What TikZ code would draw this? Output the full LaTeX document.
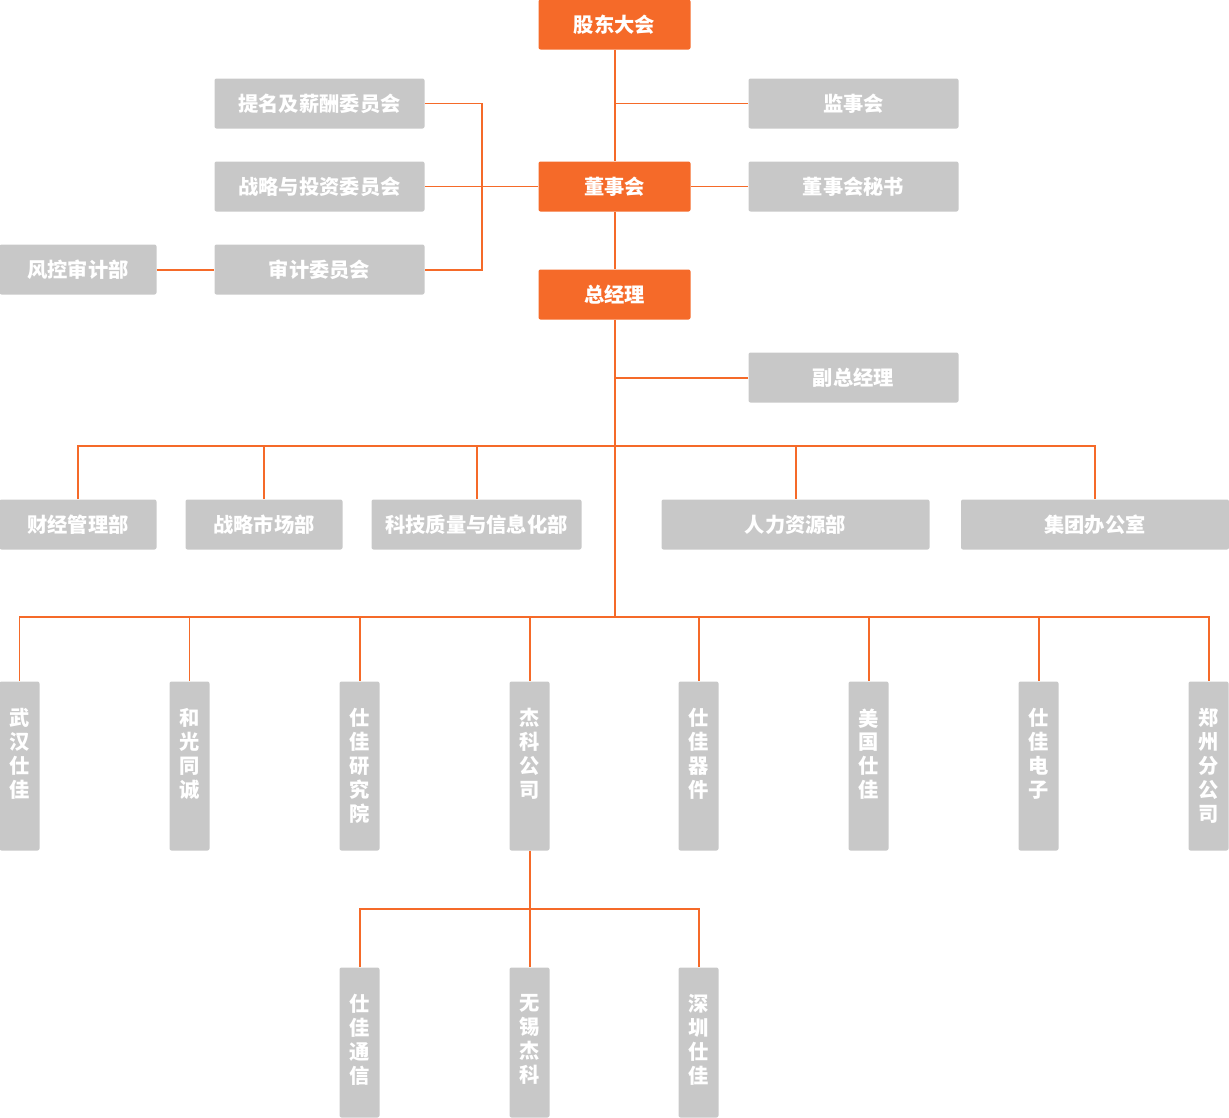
\documentclass[tikz,border=0pt]{standalone}
\usepackage{fontspec}
\newfontfamily\cjk{Noto Sans CJK SC}
\usetikzlibrary{positioning,calc}
\def\pxu{0.03cm}
\definecolor{zjorange}{HTML}{F56A29}
\definecolor{zjgray}{HTML}{C8C8C8}
\tikzset{
    base/.style={rectangle, rounded corners=0.06cm, text=white, inner sep=0pt, font=\cjk\bfseries\fontsize{17.3pt}{20.4pt}\selectfont},
    lead/.style={base, fill=zjorange, minimum width=152*\pxu, minimum height=50*\pxu},
    side/.style={base, fill=zjgray, minimum width=210*\pxu, minimum height=50*\pxu},
    dept/.style={side, minimum width=157*\pxu},
    unit/.style={base, fill=zjgray, minimum width=40*\pxu, minimum height=169*\pxu},
    subunit/.style={unit, minimum height=150*\pxu},
    utext/.style={base, anchor=north, align=center},
    link/.style={draw=zjorange, line width=1.7pt}
}
\begin{document}
\begin{tikzpicture}[x=0.03cm, y=-0.03cm]
        \useasboundingbox (0,0) rectangle (1229,1118);
        % Top level
        \node[lead] (gd) at (614.5,24.5) {股东大会};
        \node[side] (js) at (853.5,103.5) {监事会};
        \node[lead] (dsh) at (614.5,186.5) {董事会};
        \node[side] (ms) at (853.5,186.5) {董事会秘书};
        
        % Committees
        \node[side] (tm) at (319.5,103.5) {提名及薪酬委员会};
        \node[side] (zl) at (319.5,186.5) {战略与投资委员会};
        \node[side] (sj) at (319.5,269.5) {审计委员会};
        \node[dept] (fk) at (78,269.5) {风控审计部};
        
        % Management
        \node[lead] (zjl) at (614.5,294.5) {总经理};
        \node[side] (fz) at (853.5,377.5) {副总经理};
        
        % Departments
        \node[dept] (cj) at (78,524.5) {财经管理部};
        \node[dept] (zs) at (264,524.5) {战略市场部};
        \node[side] (kj) at (476.5,524.5) {科技质量与信息化部};
        \node[side, minimum width=268*\pxu] (rl) at (795.5,524.5) {人力资源部};
        \node[side, minimum width=268*\pxu] (jt) at (1095,524.5) {集团办公室};
        
        % Subsidiaries
        \foreach \n/\x/\t in {wh/19.5/武\\汉\\仕\\佳, hg/189.5/和\\光\\同\\诚, yj/359.5/仕\\佳\\研\\究\\院, jk/529.5/杰\\科\\公\\司, qj/698.5/仕\\佳\\器\\件, mg/868.5/美\\国\\仕\\佳, dz/1038.5/仕\\佳\\电\\子, zz/1208.5/郑\\州\\分\\公\\司} {
            \node[unit] (\n) at (\x,766) {};
            \node[utext] (\n-t) at ([yshift=-27*\pxu]\n.north) {\t};
        }
        \foreach \n/\x/\t in {tx/359.5/仕\\佳\\通\\信, wx/529.5/无\\锡\\杰\\科, sz/698.5/深\\圳\\仕\\佳} {
            \node[subunit] (\n) at (\x,1042.5) {};
            \node[utext] (\n-t) at ([yshift=-27*\pxu]\n.north) {\t};
        }
        
        % Junctions
        \coordinate (j1) at (gd.south |- js.west);
        \coordinate (j2) at (zjl.south |- fz.west);
        \coordinate (bk) at (482,186.5);
        \coordinate (h1) at (614.5,446);
        \coordinate (h2) at (614.5,617);
        \coordinate (h3) at (529.5,909);
        
        % Connections
        \draw[link] (gd.south) -- (dsh.north);
        \draw[link] (j1) -- (js.west);
        \draw[link] (dsh.east) -- (ms.west);
        \draw[link] (dsh.west) -- (bk);
        \draw[link] (tm.east) -| (bk) |- (sj.east);
        \draw[link] (zl.east) -- (bk);
        \draw[link] (fk.east) -- (sj.west);
        \draw[link] (dsh.south) -- (zjl.north);
        \draw[link] (zjl.south) -- (h2);
        \draw[link] (j2) -- (fz.west);
        \foreach \n in {cj,zs,kj,rl,jt}
            \draw[link] (h1) -| (\n.north);
        \foreach \n in {wh,hg,yj,jk,qj,mg,dz,zz}
            \draw[link] (h2) -| (\n.north);
        \draw[link] (jk.south) -- (h3);
        \foreach \n in {tx,wx,sz}
            \draw[link] (h3) -| (\n.north);
    \end{tikzpicture}
\end{document}
